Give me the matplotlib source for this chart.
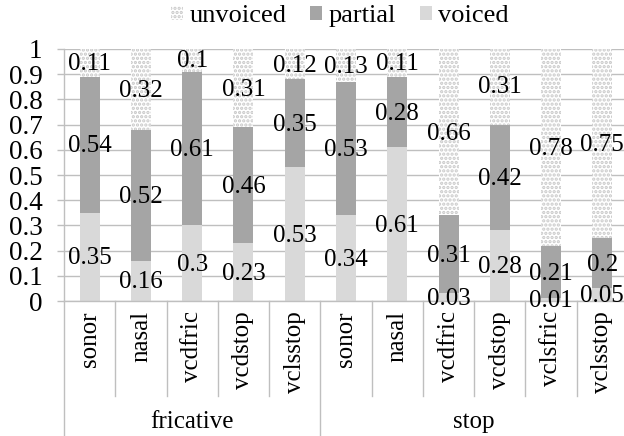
import numpy as np
import matplotlib
matplotlib.use('Agg')
import matplotlib.pyplot as plt
from matplotlib.patches import Patch

plt.rcParams['font.family'] = 'serif'
plt.rcParams['font.serif'] = ['Liberation Serif', 'DejaVu Serif']
plt.rcParams['hatch.linewidth'] = 1.6

# ---- data ----
categories = ['sonor', 'nasal', 'vcdfric', 'vcdstop', 'vclsstop',
              'sonor', 'nasal', 'vcdfric', 'vcdstop', 'vclsfric', 'vclsstop']
groups = ['fricative', 'stop']
group_sizes = [5, 6]
voiced = [0.35, 0.16, 0.3, 0.23, 0.53, 0.34, 0.61, 0.03, 0.28, 0.01, 0.05]
partial = [0.54, 0.52, 0.61, 0.46, 0.35, 0.53, 0.28, 0.31, 0.42, 0.21, 0.2]
unvoiced = [0.11, 0.32, 0.1, 0.31, 0.12, 0.13, 0.11, 0.66, 0.31, 0.78, 0.75]

C_VOICED = '#d9d9d9'
C_PARTIAL = '#a5a5a5'
C_GRID = '#bfbfbf'
FS = 18

fig = plt.figure(figsize=(6.24, 4.36), dpi=100)
W, H = 624, 436
left, right, top, bottom = 64, 628, 49, 301
ax = fig.add_axes([left / W, (H - bottom) / H, (right - left) / W, (bottom - top) / H])

x = np.arange(len(categories))
bw = 0.39
v = np.array(voiced)
p = np.array(partial)
u = np.array(unvoiced)

ax.bar(x, v, bw, color=C_VOICED, lw=0, zorder=2)
ax.bar(x, p, bw, bottom=v, color=C_PARTIAL, lw=0, zorder=2)
ax.bar(x, u, bw, bottom=v + p, facecolor='white', edgecolor='#c8c8c8',
       hatch='....', lw=0, zorder=2)

# data labels centred in each segment
for i in range(len(x)):
    for val, base in [(v[i], 0), (p[i], v[i]), (u[i], v[i] + p[i])]:
        ax.text(x[i], base + val / 2 - 0.006, f'{val:g}', ha='center', va='center',
                fontsize=FS, zorder=3)

ax.set_xlim(-0.5, len(x) - 0.5)
ax.set_ylim(0, 1)
ax.set_yticks(np.arange(0, 1.01, 0.1))
ax.set_yticklabels(['0'] + [f'{t:.1f}' for t in np.arange(0.1, 0.95, 0.1)] + ['1'])
ax.tick_params(axis='y', length=5, color=C_GRID, width=1, labelsize=19.5, pad=10.5)
ax.tick_params(axis='x', length=0, labelbottom=False)
ax.yaxis.grid(True, color=C_GRID, lw=1, zorder=0)
ax.set_axisbelow(True)
for s in ['top', 'right']:
    ax.spines[s].set_visible(False)
for s in ['left', 'bottom']:
    ax.spines[s].set_color(C_GRID)
    ax.spines[s].set_linewidth(1)

# category axis: separators, rotated labels, group labels
trans = ax.get_xaxis_transform()
h_ax = bottom - top
inner_bot = -(396 - bottom) / h_ax
outer_bot = -(H - bottom) / h_ax
for i, cat in enumerate(categories):
    ax.text(x[i], -10 / h_ax, cat, rotation=90, ha='center', va='top',
            fontsize=FS, transform=trans)

bounds = np.cumsum([0] + group_sizes) - 0.5
for k in range(len(x) + 1):
    xb = k - 0.5
    ybot = outer_bot if xb in bounds else inner_bot
    ax.plot([xb, xb], [0, ybot], color=C_GRID, lw=1, transform=trans, clip_on=False)

for g, lo, hi in zip(groups, bounds[:-1], bounds[1:]):
    ax.text((lo + hi) / 2, -(422 - bottom) / h_ax, g, ha='center', va='center',
            fontsize=FS, transform=trans)

handles = [Patch(facecolor='white', edgecolor='#c8c8c8', hatch='....', lw=0),
           Patch(facecolor=C_PARTIAL, lw=0),
           Patch(facecolor=C_VOICED, lw=0)]
fig.legend(handles, ['unvoiced', 'partial', 'voiced'], loc='center',
           bbox_to_anchor=(0.545, 1 - 16 / H), ncol=3, frameon=False, fontsize=19,
           handlelength=0.45, handleheight=0.45, handletextpad=0.25, columnspacing=0.9)

fig.savefig('out.png', dpi=100)
